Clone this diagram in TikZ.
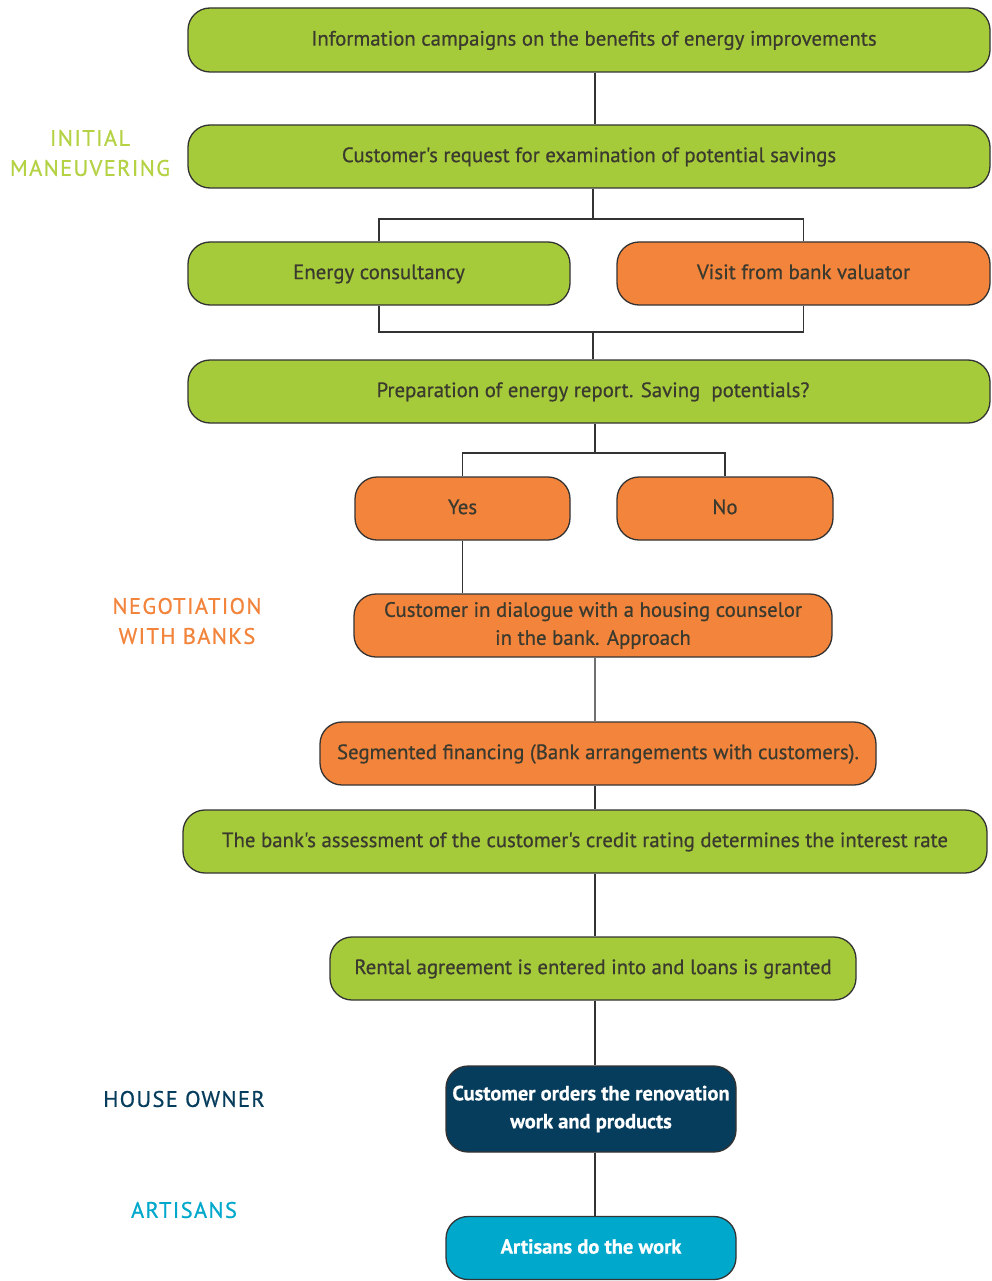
\documentclass[tikz,border=0pt]{standalone}
\usepackage{fontspec}
\setmainfont{PT Sans}[FakeBold=0.6]
\newfontfamily\boxfont{PT Sans}[FakeBold=0.6]
\newfontfamily\lblfont{PT Sans}[LetterSpace=6,FakeBold=0.6]
\definecolor{cgreen}{HTML}{A6CB3A}
\definecolor{corange}{HTML}{F3843C}
\definecolor{cnavy}{HTML}{063C5C}
\definecolor{ccyan}{HTML}{00A8CC}
\definecolor{ctext}{HTML}{3A3A2E}
\definecolor{cline}{HTML}{333333}
\definecolor{lgreen}{HTML}{B4D244}
\begin{document}
\begin{tikzpicture}[x=1pt,y=-1pt,
  box/.style={draw=cline, line width=1.3pt, rounded corners=22pt, inner sep=0pt,
    font=\boxfont\fontsize{20.8}{28}\selectfont, text=ctext, align=center},
  gbox/.style={box, fill=cgreen},
  obox/.style={box, fill=corange},
  nbox/.style={box, fill=cnavy, text=white, font=\bfseries\fontsize{20.5}{28}\selectfont},
  cbox/.style={box, fill=ccyan, text=white, font=\bfseries\fontsize{20.5}{28}\selectfont},
  conn/.style={draw=cline, line width=1.3pt},
  lbl/.style={font=\lblfont\fontsize{22.5}{30}\selectfont, align=center}
]
\useasboundingbox (0,0) rectangle (991,1281);
\fill[white] (0,0) rectangle (991,1281);

\node[gbox, minimum width=802, minimum height=64] (info) at (589,40) {\strut\hspace*{10pt}Information campaigns on the benefits of energy improvements};
\node[gbox, minimum width=802, minimum height=63] (req) at (589,156.5) {\strut Customer's request for examination of potential savings};
\node[gbox, minimum width=382, minimum height=63] (cons) at (379,273.5) {\strut Energy consultancy};
\node[obox, minimum width=373, minimum height=63] (visit) at (803.5,273.5) {\strut Visit from bank valuator};
\node[gbox, minimum width=802, minimum height=63] (prep) at (589,391.5) {\strut\hspace*{8pt}Preparation of energy report. Saving\ \ potentials?};
\node[obox, minimum width=215, minimum height=63] (yes) at (462.5,508.5) {\strut Yes};
\node[obox, minimum width=216, minimum height=63] (no) at (725,508.5) {\strut No};
\node[obox, minimum width=478, minimum height=63] (dia) at (593,625.5) {Customer in dialogue with a housing counselor\\in the bank. Approach};
\node[obox, minimum width=556, minimum height=63] (seg) at (598,753.5) {\strut Segmented financing (Bank arrangements with customers).};
\node[gbox, minimum width=804, minimum height=63] (ass) at (585,841.5) {\strut The bank's assessment of the customer's credit rating determines the interest rate};
\node[gbox, minimum width=526, minimum height=63] (rent) at (593,968.5) {\strut Rental agreement is entered into and loans is granted};
\node[nbox, minimum width=290, minimum height=86] (ord) at (591,1109) {Customer orders the renovation\\work and products};
\node[cbox, minimum width=290, minimum height=63] (art) at (591,1248) {\strut Artisans do the work};

\coordinate (sp) at (595,0);
\coordinate (j1) at (593,219);
\coordinate (j2) at (593,332);
\coordinate (j3) at (595,453);

\draw[conn] (info.south -| sp) -- (req.north -| sp);
\draw[conn] (req.south -| j1) -- (j1);
\draw[conn] (cons.north) |- (j1) -| (visit.north);
\draw[conn] (cons.south) |- (j2) -| (visit.south);
\draw[conn] (j2) -- (prep.north -| j2);
\draw[conn] (prep.south -| j3) -- (j3);
\draw[conn] (yes.north) |- (j3) -| (no.north);
\draw[conn] (yes.south) -- (dia.north -| yes.south);
\draw[conn, draw=cline!70] (dia.south -| sp) -- (seg.north -| sp);
\draw[conn] (seg.south -| sp) -- (ass.north -| sp);
\draw[conn] (ass.south -| sp) -- (rent.north -| sp);
\draw[conn] (rent.south -| sp) -- (ord.north -| sp);
\draw[conn] (ord.south -| sp) -- (art.north -| sp);

\node[lbl, text=lgreen] (l1) at (90,153) {INITIAL\\MANEUVERING};
\node[lbl, text=corange] (l2) at (187,621) {NEGOTIATION\\WITH BANKS};
\node[lbl, text=cnavy] (l3) at (184,1099) {HOUSE OWNER};
\node[lbl, text=ccyan] (l4) at (184,1210) {ARTISANS};
\end{tikzpicture}
\end{document}
